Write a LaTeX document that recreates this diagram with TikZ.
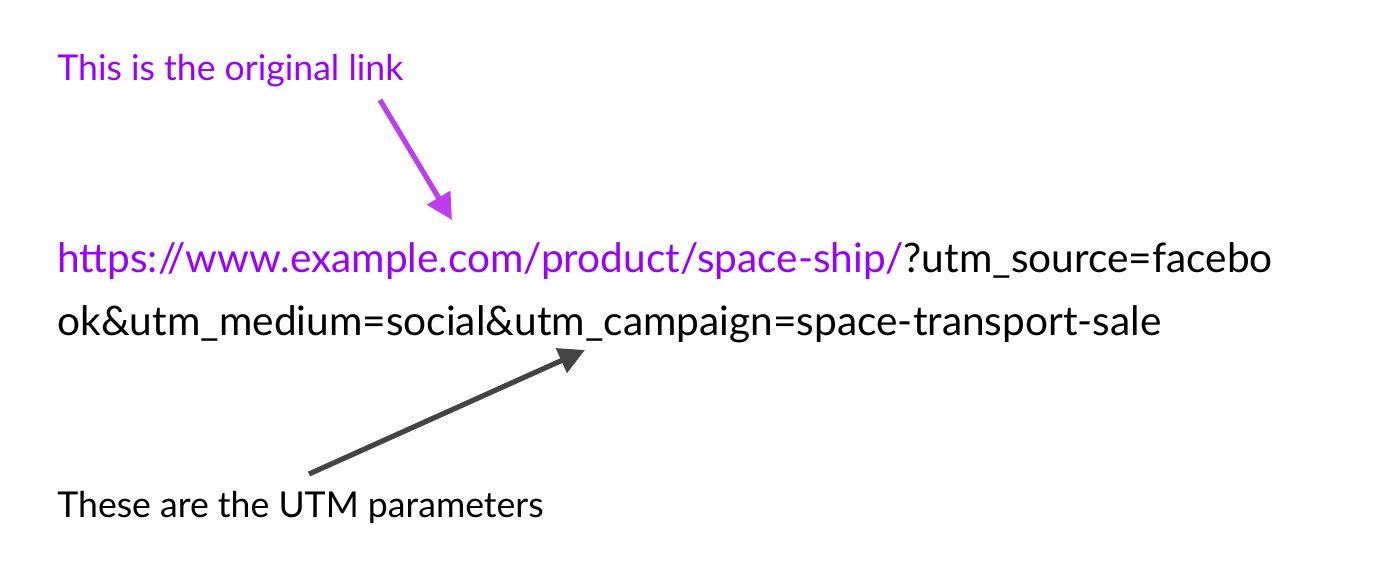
\documentclass[tikz,border=0pt]{standalone}
\usepackage{fontspec}
\setmainfont{Lato}
\usepackage{xcolor}
\definecolor{LinkViolet}{HTML}{9B00FF}
\definecolor{ArrowViolet}{HTML}{BE3DF0}
\definecolor{ArrowGrey}{HTML}{444444}
\usepackage{tikz}
\usetikzlibrary{arrows.meta, positioning}
\tikzstyle{note} = [inner sep=0pt, anchor=base west, font=\fontsize{17.8}{21}\selectfont]
\tikzstyle{urltext} = [inner sep=0pt, anchor=base west, font=\fontsize{20.3}{24}\selectfont]
\tikzstyle{pointer} = [line width=2.6pt, -{Triangle[length=13pt, width=13pt]}]

\begin{document}
\begin{tikzpicture}[x=0.5pt, y=-0.5pt]
        \useasboundingbox (0,0) rectangle (1374,562);
        % Labels
        \node [note, text=LinkViolet] (orig) at (57,80) {This is the original link};
        \node [urltext] (line1) at (57,272) {\textcolor{LinkViolet}{https://www.example.com/product/space-ship/}?utm\_source=facebo};
        \node [urltext] (line2) at (57,335) {ok\&utm\_medium=social\&utm\_campaign=space-transport-sale};
        \node [note] (utm) at (57,517) {These are the UTM parameters};

        % Arrow ends
        \coordinate (origtail) at (380,100);
        \coordinate (origtip) at (452,220);
        \coordinate (utmtail) at (309,474);
        \coordinate (utmtip) at (585,350);

        % Pointers
        \draw [pointer, color=ArrowViolet] (origtail) -- (origtip);
        \draw [pointer, color=ArrowGrey] (utmtail) -- (utmtip);
    \end{tikzpicture}
\end{document}
